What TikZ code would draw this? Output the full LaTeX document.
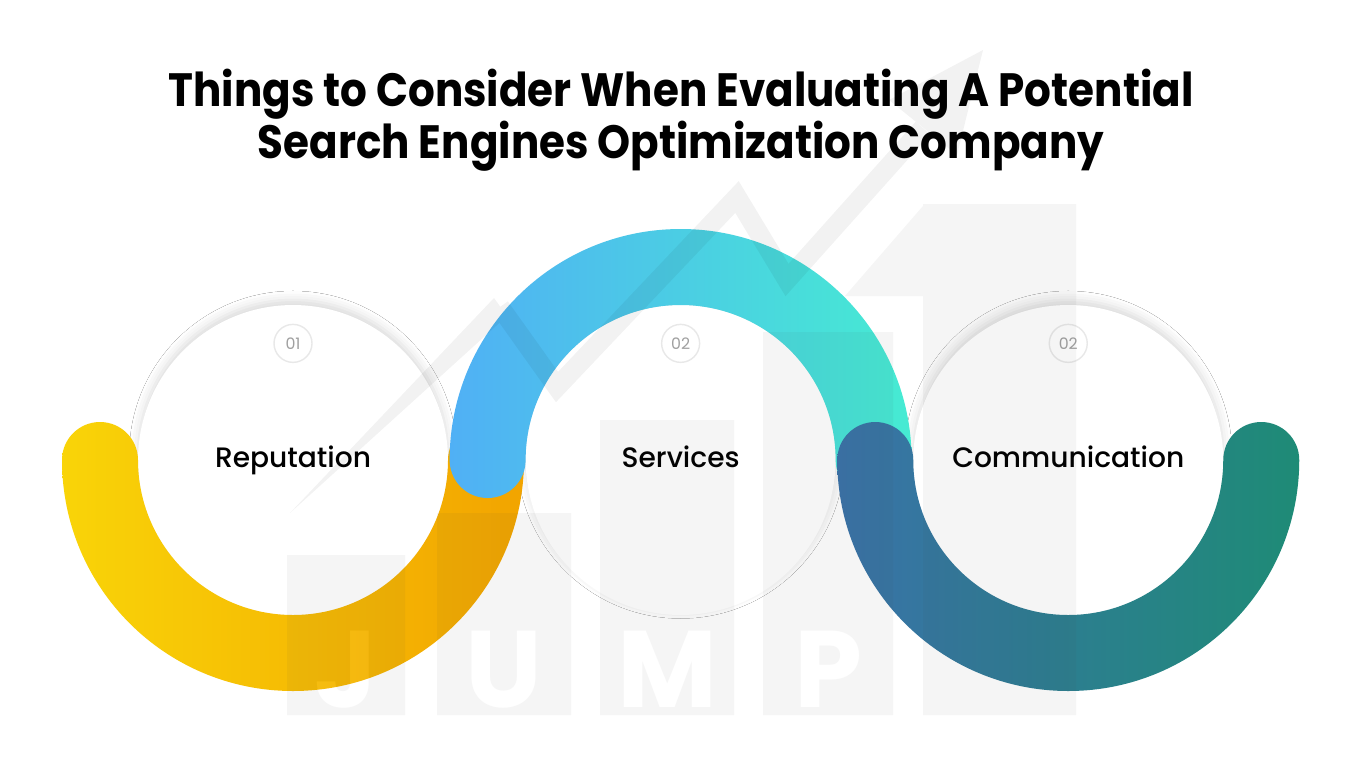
\documentclass[tikz,border=0pt]{standalone}
\usepackage{fontspec}
\setmainfont{Poppins}
\newfontfamily\medfont{Poppins Medium}
\newfontfamily\headfont[FakeStretch=0.9]{Poppins Bold}
\usetikzlibrary{positioning,shadows.blur}
\definecolor{myel}{RGB}{249,212,8}
\definecolor{morg}{RGB}{242,164,0}
\definecolor{mblu}{RGB}{80,176,245}
\definecolor{mtea}{RGB}{70,235,210}
\definecolor{mdbl}{RGB}{58,114,168}
\definecolor{mgrn}{RGB}{30,139,118}
\definecolor{mgry}{RGB}{160,160,160}

% half ring round a disc: #1 disc, #2 side (1 below, -1 above), #3 shading
\newcommand{\ringband}[3]{%
  \shade[#3] ([shift={(-231,0)}]#1.center)
    arc[start angle=180, end angle={180-180*#2}, radius=231]
    arc[start angle=0, end angle={-180*#2}, radius=38]
    arc[start angle={180-180*#2}, end angle=180, radius=155]
    arc[start angle=0, end angle={-180*#2}, radius=38] -- cycle;}

\begin{document}
\begin{tikzpicture}[x=0.02cm, y=-0.02cm,
    disc/.style={circle, fill=white, minimum size=6.2cm, inner sep=0pt,
                 text height=0.85em, text depth=0pt,
                 font=\medfont\fontsize{16}{18}\selectfont,
                 blur shadow={shadow xshift=0pt, shadow yshift=3pt,
                              shadow blur radius=5pt, shadow opacity=14}},
    badge/.style={circle, fill=white, draw=black!9, line width=0.8pt,
                  minimum size=0.76cm, inner sep=0pt, text=mgry,
                  font=\fontsize{9}{10}\selectfont},
    wmark/.style={font=\bfseries\fontsize{62}{62}\selectfont, text=white,
                  anchor=base, inner sep=0pt},
  ]
    \useasboundingbox (0,0) rectangle (1362,768);
    \fill[white] (0,0) rectangle (1362,768);

    \node[font=\headfont\fontsize{26.6}{23.5}\selectfont, align=center,
          anchor=north, inner sep=0pt] (title) at (681,69)
      {Things to Consider When Evaluating A Potential\\Search Engines Optimization Company};

    \node[disc] (rep) at (293,460) {Reputation};
    \node[disc, right=1.54cm of rep] (srv) {Services};
    \node[disc, right=1.54cm of srv] (com) {Communication};
    \node[badge, below=0.38cm of rep.north] (n1) {01};
    \node[badge, below=0.38cm of srv.north] (n2) {02};
    \node[badge, below=0.38cm of com.north] (n3) {02};

    \ringband{rep}{1}{left color=myel, middle color=myel!85!morg, right color=morg}
    \ringband{srv}{-1}{left color=mblu, right color=mtea}
    \ringband{com}{1}{left color=mdbl, middle color=mdbl!70!mgrn, right color=mgrn}

    % faint logo behind
    \begin{scope}[transparency group, opacity=0.05]
      \foreach \xa/\xb/\yt in {287/405/555, 437/571/513, 600/734/420,
                               763/893/332, 923/1076/204}
        \fill[black!75] (\xa,\yt) rectangle (\xb,715);
      \fill[black!75] (845,296) -- (923,206) -- (923,296) -- cycle;
      \fill (290,513) -- (494,298) -- (507,316) -- cycle;
      \draw[line width=11pt, line join=miter]
        (500,307) -- (557,387) -- (737,197) -- (787,280) -- (923,128);
      \fill (983,50) -- (889,100) -- (957,155) -- cycle;
      \foreach \ch/\xc in {J/346, U/504, M/667, P/828}
        \node[wmark] (wm\ch) at (\xc,707) {\ch};
    \end{scope}
  \end{tikzpicture}
\end{document}
